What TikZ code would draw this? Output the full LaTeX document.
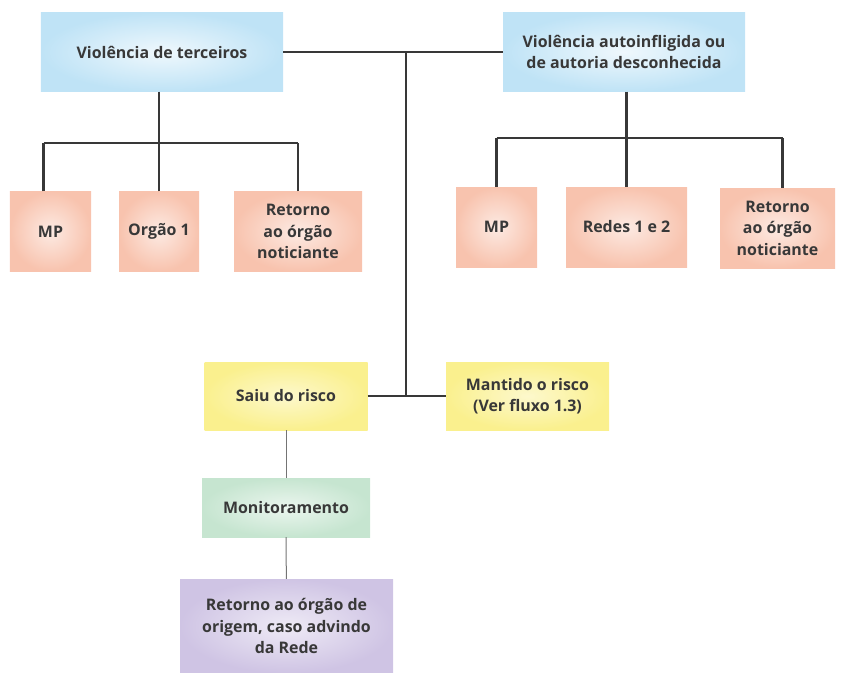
\documentclass[tikz,border=0pt]{standalone}
\usepackage{fontspec}
\setmainfont{Open Sans}
\usepackage{tikz}
\usetikzlibrary{positioning}
\definecolor{skyblue}{HTML}{BFE3F6}
\definecolor{salmon}{HTML}{F8C3AE}
\definecolor{lemon}{HTML}{FAF08E}
\definecolor{mint}{HTML}{C6E5D0}
\definecolor{lilac}{HTML}{CFC4E4}
\definecolor{ink}{HTML}{383838}
\tikzstyle{box}=[rectangle, align=center, inner sep=2pt, text=ink, font=\fontsize{16}{21.5}\selectfont\bfseries]
\tikzstyle{origin}=[box, inner color=skyblue!25, outer color=skyblue, minimum width=242bp, minimum height=79bp]
\tikzstyle{target}=[box, inner color=salmon!35, outer color=salmon, minimum height=80bp]
\tikzstyle{risk}=[box, inner color=lemon!45, outer color=lemon, minimum width=163bp, minimum height=68bp]
\tikzstyle{watch}=[box, inner color=mint!35, outer color=mint, minimum width=168bp, minimum height=59bp]
\tikzstyle{back}=[box, inner color=lilac!35, outer color=lilac, minimum width=213bp, minimum height=94bp]
\tikzstyle{thick line}=[draw=ink, line width=2.2bp]
\tikzstyle{thin line}=[draw=ink!70, line width=1bp]

\begin{document}
\begin{tikzpicture}[x=1bp, y=-1bp]
  \useasboundingbox (0,0) rectangle (842,673);

  \node[origin] (vt) at (162,52) {Violência de terceiros};
  \node[origin] (va) at (624,52) {Violência autoinfligida ou\\de autoria desconhecida};

  \node[target, minimum width=81bp]  (mpl)  at (50.5,231.5) {MP};
  \node[target, minimum width=80bp]  (org)  at (159,231.5) {Orgão 1};
  \node[target, minimum width=128bp] (retl) at (298,231.5) {Retorno\\ao órgão\\noticiante};

  \node[target, minimum width=81bp]  (mpr)  at (496.5,227) {MP};
  \node[target, minimum width=121bp] (red)  at (626.5,227) {Redes 1 e 2};
  \node[target, minimum width=115bp] (retr) at (777.5,228) {Retorno\\ao órgão\\noticiante};

  \node[risk] (saiu) at (286,396) {Saiu do risco};
  \node[risk] (mant) at (527.5,396) {Mantido o risco\\(Ver fluxo 1.3)};

  \node[watch] (moni) at (286,507.5) {Monitoramento};
  \node[back]  (orig) at (286.5,626) {Retorno ao órgão de\\origem, caso advindo\\da Rede};

  % top level
  \coordinate (hub) at (406,52);
  \draw[thick line] (vt.east) -- (va.west);
  \draw[thick line] (hub) -- (hub |- saiu);
  \draw[thick line] (saiu.east) -- (mant.west);

  % left tree
  \coordinate (lbar) at (159,143);
  \draw[thick line] (org |- vt.south) -- (lbar);
  \draw[thick line] ([xshift=-7bp]mpl.north |- lbar) -- (retl |- lbar);
  \draw[thick line] ([xshift=-7bp]mpl.north) -- ([xshift=-7bp]mpl.north |- lbar);
  \foreach \c in {org,retl}
    \draw[thick line] (\c.north) -- (\c |- lbar);

  % right tree
  \coordinate (rbar) at (626.5,138);
  \draw[thick line] (red |- va.south) -- (rbar);
  \draw[thick line] (mpr |- rbar) -- ([xshift=5bp]retr.north |- rbar);
  \draw[thick line] ([xshift=5bp]retr.north) -- ([xshift=5bp]retr.north |- rbar);
  \foreach \c in {mpr,red}
    \draw[thick line] (\c.north) -- (\c |- rbar);

  % bottom chain
  \draw[thin line] (saiu) -- (moni);
  \draw[thin line] (moni) -- (orig);

\end{tikzpicture}
\end{document}
